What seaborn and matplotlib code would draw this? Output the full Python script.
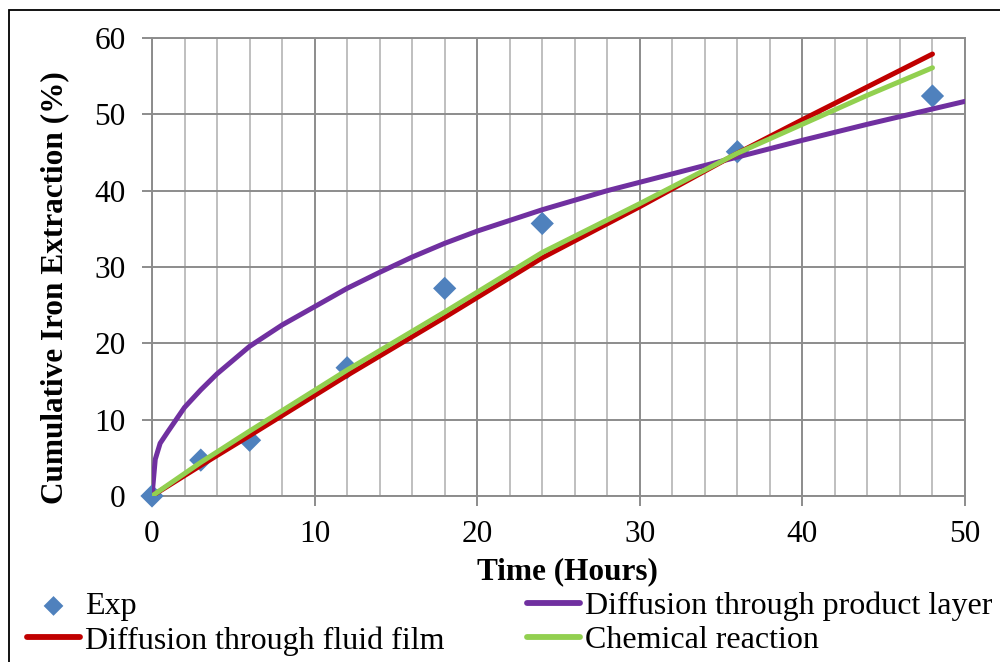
import matplotlib
matplotlib.use("Agg")
import matplotlib.pyplot as plt
from matplotlib.patches import Rectangle
from matplotlib.ticker import MultipleLocator
import seaborn as sns
import pandas as pd

# Experimental cumulative iron extraction (%)
exp_time = [0, 3, 6, 12, 18, 24, 36, 48]
exp_value = [0, 4.7, 7.3, 16.8, 27.2, 35.7, 45.1, 52.4]

# Shrinking-core model curves
film_time = [0, 3, 6, 12, 18, 24, 30, 36, 40, 44, 48]
film_value = [0, 4.0, 7.9, 15.8, 23.4, 31.2, 37.9, 44.9, 49.3, 53.6, 57.9]

chem_time = [0, 3, 6, 12, 18, 24, 30, 36, 40, 44, 48]
chem_value = [0, 4.4, 8.5, 16.5, 24.1, 31.9, 38.3, 44.9, 48.7, 52.5, 56.1]

prod_time = [0, 0.2, 0.5, 1, 2, 3, 4, 6, 8, 10, 12, 14, 16, 18, 20, 24,
             28, 30, 32, 34, 36, 40, 44, 48, 50]
prod_value = [0, 4.8, 6.9, 8.5, 11.6, 13.9, 16.0, 19.6, 22.4, 24.8, 27.2,
              29.3, 31.3, 33.1, 34.7, 37.5, 40.0, 41.1, 42.2, 43.3, 44.4,
              46.6, 48.7, 50.7, 51.7]

labels = ["Exp", "Diffusion through fluid film",
          "Diffusion through product layer", "Chemical reaction"]
colors = {"Exp": "#4F81BD",
          "Diffusion through fluid film": "#C00000",
          "Diffusion through product layer": "#7030A0",
          "Chemical reaction": "#92D050"}

sns.set_theme(style="white")
plt.rcParams["font.family"] = ["Liberation Serif", "DejaVu Serif"]
plt.rcParams["text.color"] = "black"
plt.rcParams["axes.labelcolor"] = "black"
plt.rcParams["xtick.color"] = "black"
plt.rcParams["ytick.color"] = "black"

fig = plt.figure(figsize=(10, 6.62), dpi=100)
ax = fig.add_axes([0.152, 0.2508, 0.813, 0.6918])

exp_df = pd.DataFrame({"t": exp_time, "x": exp_value})
film_df = pd.DataFrame({"t": film_time, "x": film_value})
chem_df = pd.DataFrame({"t": chem_time, "x": chem_value})
prod_df = pd.DataFrame({"t": prod_time, "x": prod_value})

sns.scatterplot(data=exp_df, x="t", y="x", marker="D", s=140,
                color=colors["Exp"], edgecolor="none", ax=ax,
                zorder=3, label=labels[0], legend=False, clip_on=False)
lw = 3.6
sns.lineplot(data=prod_df, x="t", y="x", color=colors[labels[2]], lw=lw,
             ax=ax, zorder=4, label=labels[2], legend=False)
sns.lineplot(data=film_df, x="t", y="x", color=colors[labels[1]], lw=lw,
             ax=ax, zorder=5, label=labels[1], legend=False)
sns.lineplot(data=chem_df, x="t", y="x", color=colors[labels[3]], lw=lw,
             ax=ax, zorder=6, label=labels[3], legend=False)

ax.set_xlim(0, 50)
ax.set_ylim(0, 60)
ax.xaxis.set_major_locator(MultipleLocator(10))
ax.xaxis.set_minor_locator(MultipleLocator(2))
ax.yaxis.set_major_locator(MultipleLocator(10))

grid_major = "#8C8C8C"
grid_minor = "#BFBFBF"
ax.grid(which="major", axis="both", color=grid_major, lw=1.4, zorder=1)
ax.grid(which="minor", axis="x", color=grid_minor, lw=1.4, zorder=0)
ax.set_axisbelow(True)
for side in ["left", "right", "top", "bottom"]:
    ax.spines[side].set_visible(True)
    ax.spines[side].set_color(grid_major)
    ax.spines[side].set_linewidth(1.4)

ax.tick_params(axis="both", which="major", labelsize=22.5, color=grid_major,
               width=1.4, length=7, direction="out", labelcolor="black")
ax.tick_params(axis="y", which="major", pad=12)
ax.tick_params(axis="x", which="major", pad=10)
ax.tick_params(axis="x", which="minor", length=0)
ax.tick_params(left=True, bottom=True)
ax.set_xlabel("")
ax.set_ylabel("")

fig.text(0.567, 0.136, "Time (Hours)", ha="center", va="center",
         fontsize=22.5, fontweight="bold", color="black")
fig.text(0.055, 0.566, "Cumulative Iron Extraction (%)", ha="center",
         va="center", rotation=90, fontsize=22.5, fontweight="bold",
         color="black")

handles, hl = ax.get_legend_handles_labels()
lookup = dict(zip(hl, handles))
leg = fig.legend([lookup[l] for l in labels], labels, loc="upper left",
                 bbox_to_anchor=(0.027, 0.106), ncol=2, frameon=False,
                 fontsize=23, borderpad=0, borderaxespad=0,
                 handlelength=1.66, handletextpad=0.15, columnspacing=2.6,
                 labelspacing=0.15, markerscale=0.85)
for txt in leg.get_texts():
    txt.set_color("black")
for h in leg.legend_handles:
    if hasattr(h, "set_linewidth") and not hasattr(h, "get_offsets"):
        h.set_linewidth(4.2)

fig.patches.append(Rectangle((0.009, -0.5), 2.0, 1.4849, fill=False,
                             edgecolor="black", lw=1.3,
                             transform=fig.transFigure, figure=fig))

fig.savefig("out.png", dpi=100)
